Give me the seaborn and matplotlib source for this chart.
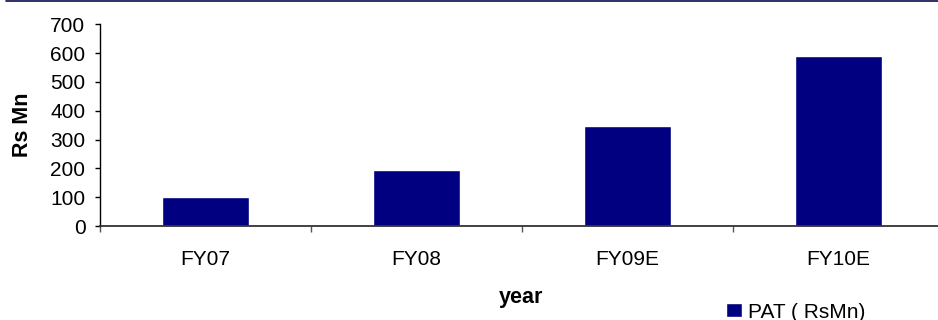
import matplotlib
matplotlib.use("Agg")
import matplotlib.pyplot as plt
from matplotlib.lines import Line2D
from matplotlib.ticker import FixedLocator
import seaborn as sns
import pandas as pd

# ---- data ----
years = ["FY07", "FY08", "FY09E", "FY10E"]
pat_rsmn = [99, 193, 346, 590]
series_label = "PAT ( RsMn)"
y_ticks = [0, 100, 200, 300, 400, 500, 600, 700]

sns.set_style("white")
plt.rcParams["font.family"] = ["Liberation Sans", "DejaVu Sans"]
plt.rcParams["text.color"] = "black"
plt.rcParams["xtick.color"] = "black"
plt.rcParams["ytick.color"] = "black"
plt.rcParams["axes.labelcolor"] = "black"

df = pd.DataFrame({"year": years, "pat": pat_rsmn})

fig = plt.figure(figsize=(9.38, 3.2), dpi=100)
ax = fig.add_axes([100 / 938, 94 / 320, 844 / 938, (295.7 - 94) / 320])

sns.barplot(data=df, x="year", y="pat", color="#000080", saturation=1,
            width=0.41, ax=ax, label=series_label)

ax.set_xlim(-0.5, len(years) - 0.5)
ax.set_ylim(0, 700)
ax.set_yticks(y_ticks)
ax.set_yticklabels([str(v) for v in y_ticks])
ax.set_xlabel("")
ax.set_ylabel("")

for s in ["top", "right"]:
    ax.spines[s].set_visible(False)
ax.spines["left"].set_color("#000000")
ax.spines["left"].set_linewidth(1.0)
ax.spines["bottom"].set_color("#333333")
ax.spines["bottom"].set_linewidth(1.3)

ax.xaxis.set_minor_locator(FixedLocator([i - 0.5 for i in range(len(years) + 1)]))
ax.tick_params(axis="x", which="major", length=0, pad=17, labelsize=15, labelcolor="black")
ax.tick_params(axis="x", which="minor", length=4, width=1, color="#555555", direction="out", bottom=True)
ax.tick_params(axis="y", which="major", length=3.5, width=1, color="#000000", pad=7,
               labelsize=15, labelcolor="black", left=True, direction="out")
ax.grid(False)

fig.text(22 / 938, 1 - 125 / 320, "Rs Mn", rotation=90, ha="center", va="center",
         fontsize=15.5, fontweight="bold", color="black")
fig.text(521 / 938, 1 - 297 / 320, "year", ha="center", va="center",
         fontsize=15.5, fontweight="bold", color="black")

handles, labels = ax.get_legend_handles_labels()
leg = ax.legend(handles, labels, loc="center left",
                bbox_to_anchor=(726 / 938, 1 - 312 / 320),
                bbox_transform=fig.transFigure, frameon=False, fontsize=15,
                handlelength=0.78, handleheight=0.68, handletextpad=0.28,
                borderpad=0, borderaxespad=0)
for t in leg.get_texts():
    t.set_color("black")

fig.add_artist(Line2D([0.006, 1.0], [1 - 1 / 320, 1 - 1 / 320], color="#0a0a50",
                      lw=1.2, transform=fig.transFigure))

fig.savefig("out.png", dpi=100)
